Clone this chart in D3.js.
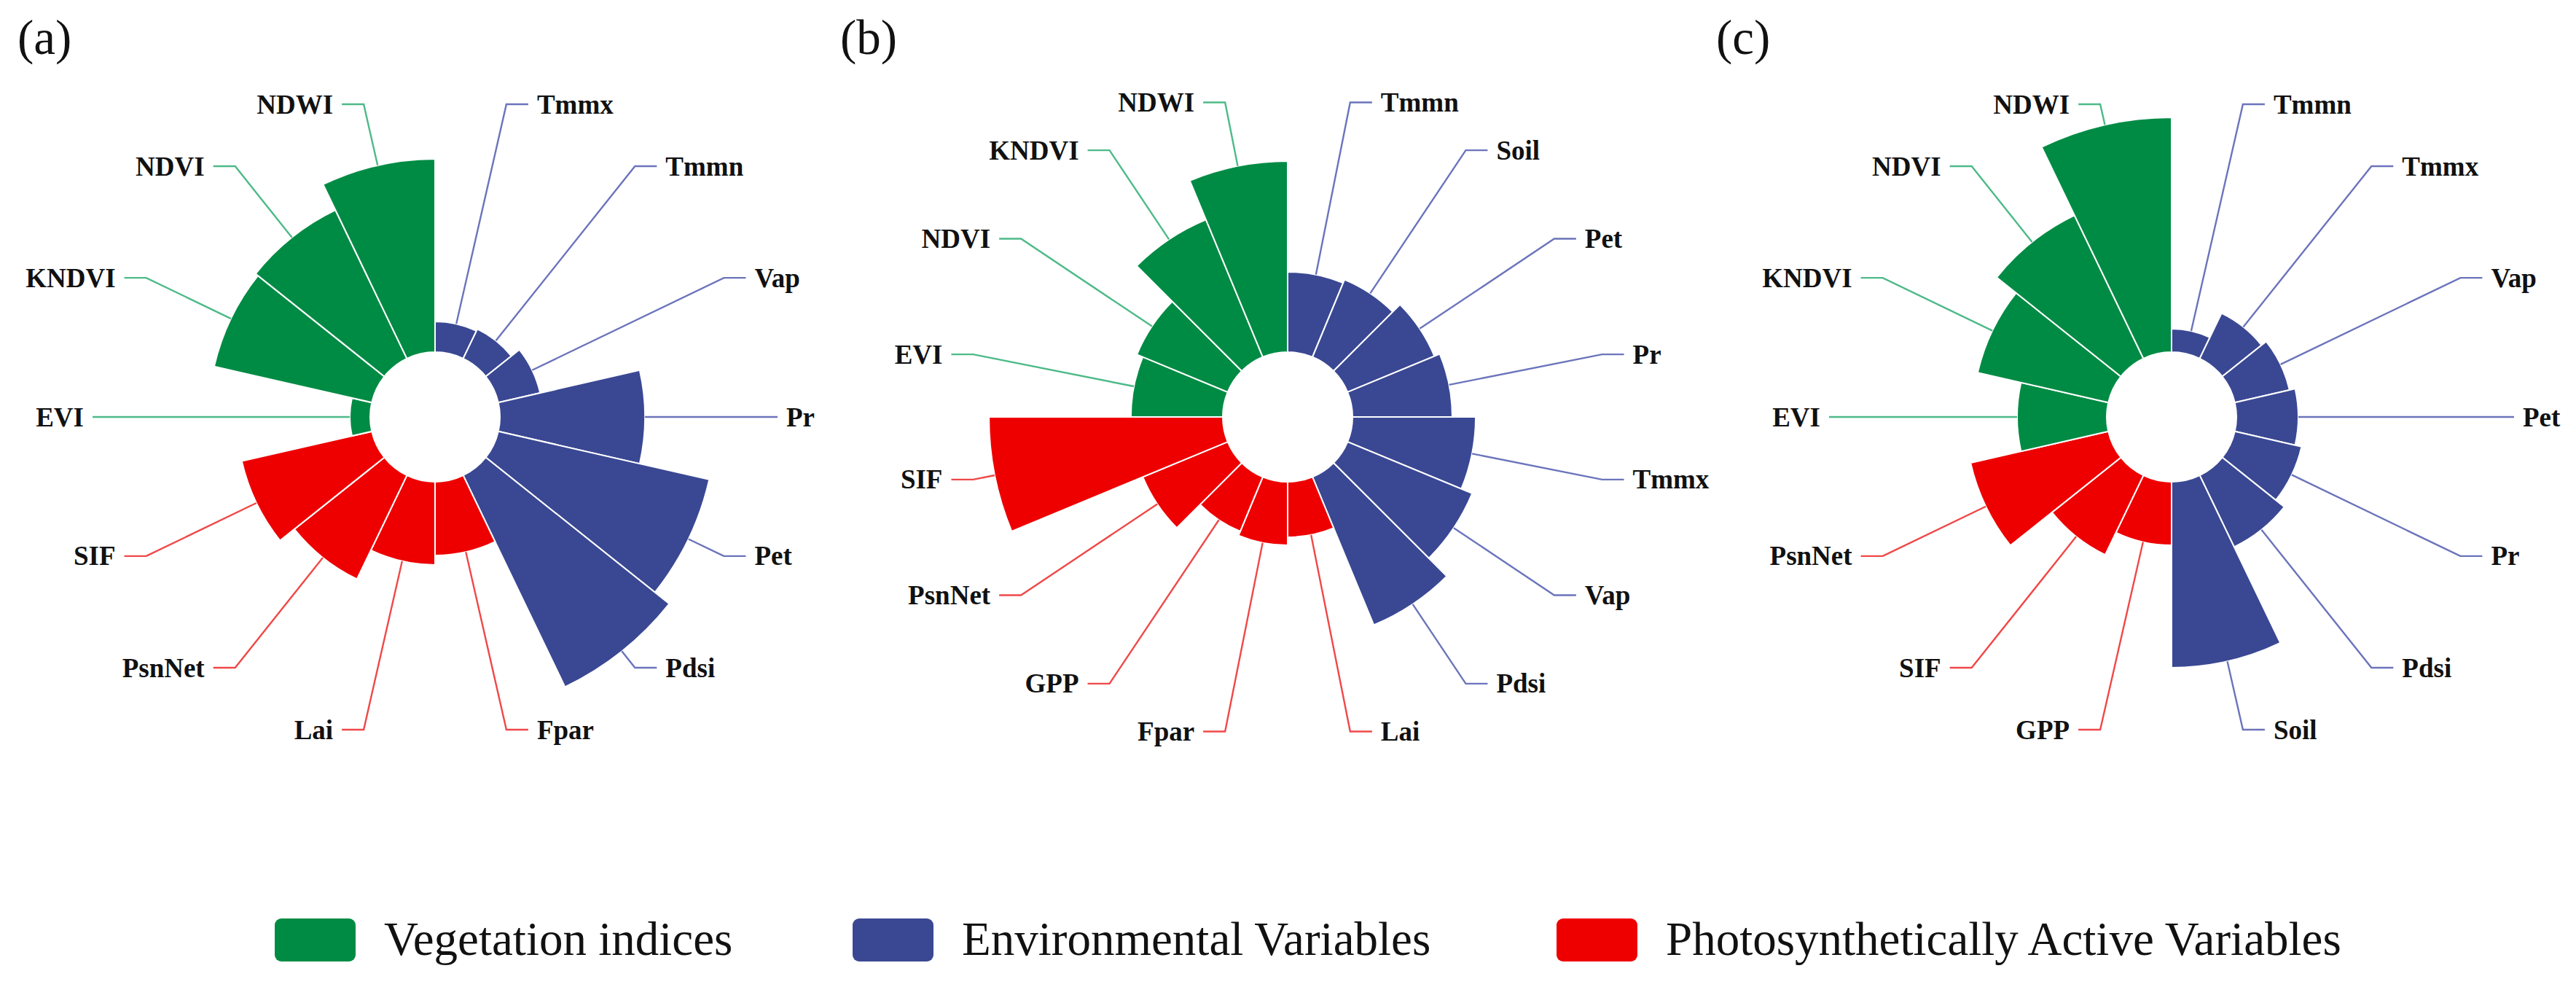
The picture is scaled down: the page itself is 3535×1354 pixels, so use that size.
<!DOCTYPE html>
<html><head><meta charset="utf-8">
<script src="https://cdn.jsdelivr.net/npm/d3@7"></script>
<style>body{margin:0;background:#fff} svg{display:block}</style>
</head><body>
<svg id="chart" width="3535" height="1354"></svg>
<script>
// ---- group membership ----
const vegetation = ["NDWI", "NDVI", "KNDVI", "EVI"];
const environmental = ["Tmmx", "Tmmn", "Vap", "Pr", "Pet", "Pdsi", "Soil"];
const photosynthetic = ["Fpar", "Lai", "PsnNet", "SIF", "GPP"];

// ---- panel (a) : clockwise from 12 o'clock ----
const categoriesA = ["Tmmx", "Tmmn", "Vap", "Pr", "Pet", "Pdsi", "Fpar", "Lai", "PsnNet", "SIF", "EVI", "KNDVI", "NDVI", "NDWI"];
const valuesA = [1.86, 1.99, 2.61, 8.81, 13.14, 14.25, 4.47, 5.04, 6.99, 8.10, 1.24, 9.82, 10.00, 11.73];

// ---- panel (b) ----
const categoriesB = ["Tmmn", "Soil", "Pet", "Pr", "Tmmx", "Vap", "Pdsi", "Lai", "Fpar", "GPP", "PsnNet", "SIF", "EVI", "NDVI", "KNDVI", "NDWI"];
const valuesB = [4.87, 5.09, 5.71, 6.06, 7.48, 8.19, 9.73, 3.36, 3.85, 3.58, 5.58, 14.20, 5.58, 5.97, 9.03, 11.59];

// ---- panel (c) ----
const categoriesC = ["Tmmn", "Tmmx", "Vap", "Pet", "Pr", "Pdsi", "Soil", "GPP", "SIF", "PsnNet", "EVI", "KNDVI", "NDVI", "NDWI"];
const valuesC = [1.42, 3.05, 3.41, 3.76, 4.16, 4.82, 11.28, 3.85, 5.35, 8.58, 5.44, 8.14, 9.65, 14.25];

const panelLabels = ["(a)", "(b)", "(c)"];
const legendLabels = ["Vegetation indices", "Environmental Variables", "Photosynthetically Active Variables"];

// ---- styling / layout ----
const groupKeys = ["veg", "env", "pho"];
const fillColor = {veg: "#008B44", env: "#3A4893", pho: "#EE0000"};
const lineColor = {veg: "#4DBA88", env: "#6B74BB", pho: "#F04848"};
const groupOf = c => vegetation.includes(c) ? "veg" : environmental.includes(c) ? "env" : "pho";

const svg = d3.select("#chart");
const cy = 572;
const centersX = [597, 1767, 2980];
const innerR = 89, labelR = 440, tickLen = 30, textGap = 12;
const serif = "'Times New Roman', 'Liberation Serif', Times, serif";

const r = d3.scaleLinear().domain([0, 15]).range([innerR, innerR + 15 * 22.6]);

const panels = [
  {cats: categoriesA, vals: valuesA},
  {cats: categoriesB, vals: valuesB},
  {cats: categoriesC, vals: valuesC}
];

panels.forEach((p, i) => {
  const data = p.cats.map((c, j) => ({cat: c, val: p.vals[j], grp: groupOf(c)}));
  const ang = d3.scaleBand().domain(p.cats).range([0, 2 * Math.PI]).padding(0);
  const g = svg.append("g").attr("transform", `translate(${centersX[i]},${cy})`);

  const arc = d3.arc()
    .innerRadius(innerR)
    .outerRadius(d => r(d.val))
    .startAngle(d => ang(d.cat))
    .endAngle(d => ang(d.cat) + ang.bandwidth());

  g.selectAll("path.bar").data(data).join("path")
    .attr("class", "bar")
    .attr("d", arc)
    .attr("fill", d => fillColor[d.grp])
    .attr("stroke", "#fff")
    .attr("stroke-width", 2);

  // leader lines + labels
  data.forEach(d => {
    const a = ang(d.cat) + ang.bandwidth() / 2;
    const sx = Math.sin(a), sy = -Math.cos(a);
    const r0 = r(d.val);
    const ex = labelR * sx, ey = labelR * sy;
    const dir = sx >= 0 ? 1 : -1;
    g.append("path")
      .attr("d", `M${r0 * sx},${r0 * sy}L${ex},${ey}L${ex + dir * tickLen},${ey}`)
      .attr("fill", "none")
      .attr("stroke", lineColor[d.grp])
      .attr("stroke-width", 2.4);
    g.append("text")
      .attr("x", ex + dir * (tickLen + textGap))
      .attr("y", ey)
      .attr("dy", "0.34em")
      .attr("text-anchor", dir > 0 ? "start" : "end")
      .attr("font-family", serif)
      .attr("font-weight", "bold")
      .attr("font-size", 37)
      .attr("fill", "#111")
      .text(d.cat);
  });
});

// panel letters
const letterX = [24, 1153, 2355];
panelLabels.forEach((t, i) => {
  svg.append("text")
    .attr("x", letterX[i]).attr("y", 74)
    .attr("font-family", serif)
    .attr("font-size", 67)
    .attr("fill", "#111")
    .text(t);
});

// legend
const legendX = [377, 1170, 2136];
const legend = svg.append("g");
legendLabels.forEach((t, i) => {
  legend.append("rect")
    .attr("x", legendX[i]).attr("y", 1260)
    .attr("width", 111).attr("height", 59)
    .attr("rx", 9).attr("ry", 9)
    .attr("fill", fillColor[groupKeys[i]]);
  legend.append("text")
    .attr("x", legendX[i] + 111 + 39).attr("y", 1310)
    .attr("font-family", serif)
    .attr("font-size", 65)
    .attr("fill", "#111")
    .text(t);
});
</script>
</body></html>
